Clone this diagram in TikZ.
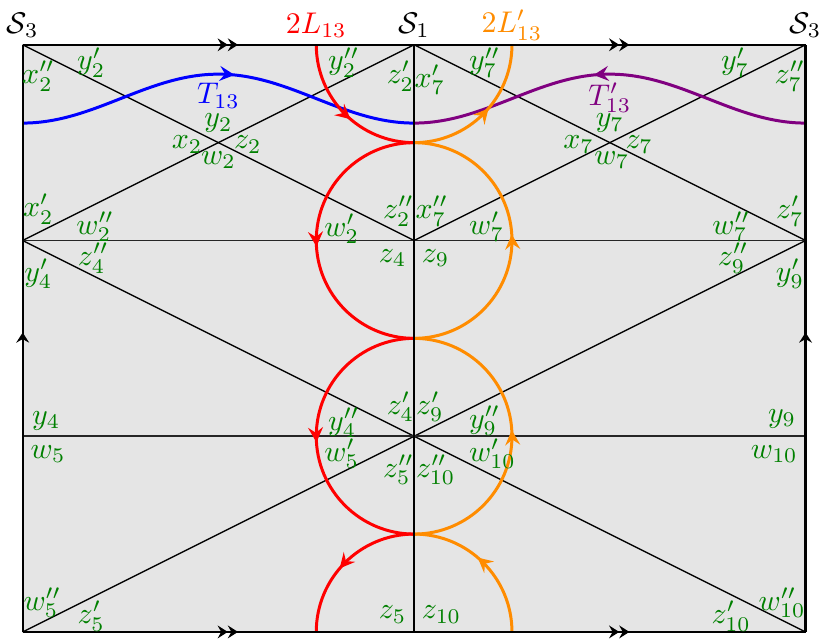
\documentclass[tikz,border=0pt]{standalone}
\usetikzlibrary{arrows.meta,decorations.markings}
\definecolor{lblgreen}{rgb}{0,0.5,0}
\definecolor{myorange}{rgb}{1,0.55,0}
\definecolor{mypurple}{rgb}{0.5,0,0.5}
\begin{document}
\begin{tikzpicture}[x=2.3cm,y=2.3cm,
  lbl/.style={text=lblgreen, inner sep=0pt},
  ttl/.style={inner sep=0pt},
  diag/.style={line width=0.45pt, black},
  hline/.style={line width=0.6pt, black!85},
  border/.style={line width=0.8pt, black},
  curve/.style={line width=1pt},
  blktip/.tip={Stealth[length=3.4pt,width=4.3pt,inset=1.2pt]},
  coltip/.tip={Stealth[length=5pt,width=5pt,inset=1.8pt]},
  carr/.style={decoration={markings, mark=at position #1 with {\arrow{coltip}}}, postaction={decorate}},
  sarr/.style={decoration={markings, mark=at position #1 with {\arrow{blktip}}}, postaction={decorate}},
  darr/.style 2 args={decoration={markings,
      mark=at position #1 with {\arrow{blktip[sep=0pt]blktip}},
      mark=at position #2 with {\arrow{blktip[sep=0pt]blktip}}}, postaction={decorate}}
]
\useasboundingbox (-0.116,-0.041) rectangle (4.125,3.229);
% grid points
\foreach \i in {0,2,4} {\foreach \j in {0,1,2,3} {\coordinate (g\i\j) at (\i,\j);}}
\coordinate (rT) at (1.5,3);
\coordinate (oT) at (2.5,3);
\coordinate (rB) at (1.5,0);
\coordinate (oB) at (2.5,0);
\coordinate (c1) at (2,2.5);
\coordinate (c2) at (2,1.5);
\coordinate (c3) at (2,0.5);
% background
\fill[gray!20] (g00) rectangle (g43);
% diagonals
\draw[diag] (g03) -- (g22) -- (g43);
\draw[diag] (g02) -- (g23) -- (g42);
\draw[diag] (g02) -- (g21) -- (g42);
\draw[diag] (g00) -- (g21) -- (g40);
% horizontals
\draw[hline] (g02) -- (g42);
\draw[hline] (g01) -- (g41);
% blue and purple curves
\coordinate (bL) at (0,2.6);
\coordinate (bQ1) at (0.5,2.725);
\coordinate (bP) at (1,2.85);
\coordinate (bQ2) at (1.5,2.725);
\coordinate (bM) at (2,2.6);
\coordinate (pQ1) at (3.5,2.725);
\coordinate (pP) at (3,2.85);
\coordinate (pQ2) at (2.5,2.725);
\coordinate (pR) at (4,2.6);
\draw[curve, blue, carr=0.54] (bL) cos (bQ1) sin (bP) cos (bQ2) sin (bM);
\draw[curve, mypurple, carr=0.54] (pR) cos (pQ1) sin (pP) cos (pQ2) sin (bM);
% red arcs
\draw[curve, red, carr=0.55] (rT) arc[start angle=180, end angle=270, radius=0.5];
\draw[curve, red, carr=0.52] (c1) arc[start angle=90, end angle=270, radius=0.5];
\draw[curve, red, carr=0.52] (c2) arc[start angle=90, end angle=270, radius=0.5];
\draw[curve, red, carr=0.55] (c3) arc[start angle=90, end angle=180, radius=0.5];
% orange arcs
\draw[curve, myorange, carr=0.55] (oB) arc[start angle=0, end angle=90, radius=0.5];
\draw[curve, myorange, carr=0.52] (c3) arc[start angle=-90, end angle=90, radius=0.5];
\draw[curve, myorange, carr=0.52] (c2) arc[start angle=-90, end angle=90, radius=0.5];
\draw[curve, myorange, carr=0.55] (c1) arc[start angle=270, end angle=360, radius=0.5];
% middle vertical and border
\draw[border] (g20) -- (g23);
\draw[border, darr={0.275}{0.775}] (g03) -- (g43);
\draw[border, darr={0.275}{0.775}] (g00) -- (g40);
\draw[border, sarr=0.51] (g00) -- (g03);
\draw[border, sarr=0.51] (g40) -- (g43);
% titles
\node[ttl] (S3L) at (0,3.1) {$\mathcal{S}_3$};
\node[ttl, text=red] (L13) at (1.5,3.1) {$2L_{13}$};
\node[ttl] (S1) at (2,3.1) {$\mathcal{S}_1$};
\node[ttl, text=myorange] (L13p) at (2.5,3.1) {$2L'_{13}$};
\node[ttl] (S3R) at (4,3.1) {$\mathcal{S}_3$};
\node[ttl, text=blue] (T13) at (1.0,2.74) {$T_{13}$};
\node[ttl, text=mypurple] (T13p) at (3.0,2.73) {$T'_{13}$};
% green labels, top-left cell
\node[lbl] (y2p) at (0.35,2.91) {$y'_2$};
\node[lbl] (x2pp) at (0.08,2.84) {$x''_2$};
\node[lbl] (y2) at (1.0,2.6) {$y_2$};
\node[lbl] (x2) at (0.84,2.49) {$x_2$};
\node[lbl] (z2) at (1.15,2.49) {$z_2$};
\node[lbl] (w2) at (1.0,2.41) {$w_2$};
\node[lbl] (y2pp) at (1.64,2.91) {$y''_2$};
\node[lbl] (z2p) at (1.93,2.84) {$z'_2$};
\node[lbl] (x2p) at (0.08,2.16) {$x'_2$};
\node[lbl] (w2pp) at (0.37,2.07) {$w''_2$};
\node[lbl] (w2p) at (1.63,2.06) {$w'_2$};
\node[lbl] (z2pp) at (1.92,2.15) {$z''_2$};
% top-right cell
\node[lbl] (x7p) at (2.08,2.82) {$x'_7$};
\node[lbl] (y7pp) at (2.36,2.91) {$y''_7$};
\node[lbl] (y7p) at (3.64,2.91) {$y'_7$};
\node[lbl] (z7pp) at (3.92,2.84) {$z''_7$};
\node[lbl] (y7) at (3.0,2.6) {$y_7$};
\node[lbl] (x7) at (2.84,2.49) {$x_7$};
\node[lbl] (z7) at (3.15,2.49) {$z_7$};
\node[lbl] (w7) at (3.01,2.41) {$w_7$};
\node[lbl] (x7pp) at (2.09,2.15) {$x''_7$};
\node[lbl] (w7p) at (2.37,2.07) {$w'_7$};
\node[lbl] (w7pp) at (3.62,2.07) {$w''_7$};
\node[lbl] (z7p) at (3.92,2.15) {$z'_7$};
% middle row
\node[lbl] (z4pp) at (0.36,1.91) {$z''_4$};
\node[lbl] (y4p) at (0.08,1.83) {$y'_4$};
\node[lbl] (z4) at (1.89,1.91) {$z_4$};
\node[lbl] (z9) at (2.11,1.91) {$z_9$};
\node[lbl] (z9pp) at (3.63,1.91) {$z''_9$};
\node[lbl] (y9p) at (3.92,1.83) {$y'_9$};
\node[lbl] (y4) at (0.12,1.08) {$y_4$};
\node[lbl] (y4pp) at (1.64,1.07) {$y''_4$};
\node[lbl] (z4p) at (1.93,1.15) {$z'_4$};
\node[lbl] (z9p) at (2.08,1.15) {$z'_9$};
\node[lbl] (y9pp) at (2.36,1.08) {$y''_9$};
\node[lbl] (y9) at (3.88,1.09) {$y_9$};
% bottom row
\node[lbl] (w5) at (0.13,0.91) {$w_5$};
\node[lbl] (w5p) at (1.63,0.91) {$w'_5$};
\node[lbl] (z5pp) at (1.92,0.83) {$z''_5$};
\node[lbl] (z10pp) at (2.11,0.83) {$z''_{10}$};
\node[lbl] (w10p) at (2.40,0.91) {$w'_{10}$};
\node[lbl] (w10) at (3.84,0.91) {$w_{10}$};
\node[lbl] (w5pp) at (0.10,0.15) {$w''_5$};
\node[lbl] (z5p) at (0.35,0.08) {$z'_5$};
\node[lbl] (z5) at (1.89,0.09) {$z_5$};
\node[lbl] (z10) at (2.14,0.09) {$z_{10}$};
\node[lbl] (z10p) at (3.62,0.08) {$z'_{10}$};
\node[lbl] (w10pp) at (3.88,0.15) {$w''_{10}$};
\end{tikzpicture}
\end{document}
